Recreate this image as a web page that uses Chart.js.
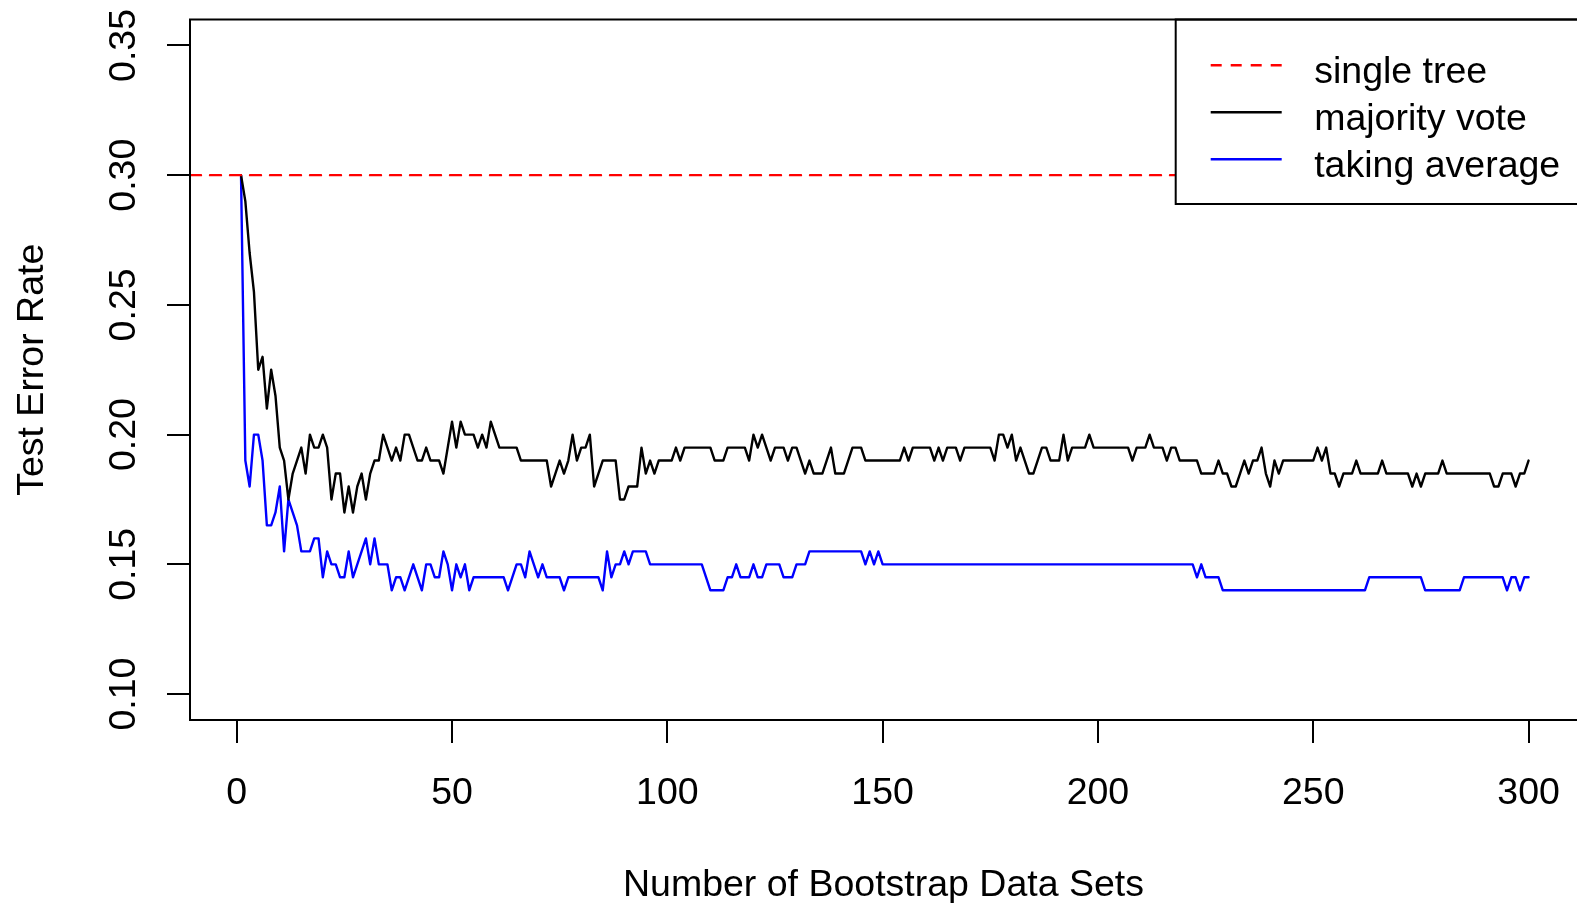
<!DOCTYPE html>
<html>
<head>
<meta charset="utf-8">
<title>Bagging: test error rate</title>
<script src="https://cdn.jsdelivr.net/npm/chart.js@4.4.1/dist/chart.umd.min.js"></script>
<style>
  html, body { margin: 0; padding: 0; background: #fff; }
</style>
</head>
<body>
<canvas id="myChart" width="1577" height="903"></canvas>
<script>
// number of bootstrap data sets (x categories)
const nTrees = Array.from({ length: 300 }, (_, i) => i + 1);

const singleTree = 0.30;

const majorityVote = [
  0.30, 0.29, 0.27, 0.255, 0.225, 0.23, 0.21, 0.225, 0.215, 0.195,
  0.19, 0.175, 0.185, 0.19, 0.195, 0.185, 0.20, 0.195, 0.195, 0.20,
  0.195, 0.175, 0.185, 0.185, 0.17, 0.18, 0.17, 0.18, 0.185, 0.175,
  0.185, 0.19, 0.19, 0.20, 0.195, 0.19, 0.195, 0.19, 0.20, 0.20,
  0.195, 0.19, 0.19, 0.195, 0.19, 0.19, 0.19, 0.185, 0.195, 0.205,
  0.195, 0.205, 0.20, 0.20, 0.20, 0.195, 0.20, 0.195, 0.205, 0.20,
  0.195, 0.195, 0.195, 0.195, 0.195, 0.19, 0.19, 0.19, 0.19, 0.19,
  0.19, 0.19, 0.18, 0.185, 0.19, 0.185, 0.19, 0.20, 0.19, 0.195,
  0.195, 0.20, 0.18, 0.185, 0.19, 0.19, 0.19, 0.19, 0.175, 0.175,
  0.18, 0.18, 0.18, 0.195, 0.185, 0.19, 0.185, 0.19, 0.19, 0.19,
  0.19, 0.195, 0.19, 0.195, 0.195, 0.195, 0.195, 0.195, 0.195, 0.195,
  0.19, 0.19, 0.19, 0.195, 0.195, 0.195, 0.195, 0.195, 0.19, 0.20,
  0.195, 0.20, 0.195, 0.19, 0.195, 0.195, 0.195, 0.19, 0.195, 0.195,
  0.19, 0.185, 0.19, 0.185, 0.185, 0.185, 0.19, 0.195, 0.185, 0.185,
  0.185, 0.19, 0.195, 0.195, 0.195, 0.19, 0.19, 0.19, 0.19, 0.19,
  0.19, 0.19, 0.19, 0.19, 0.195, 0.19, 0.195, 0.195, 0.195, 0.195,
  0.195, 0.19, 0.195, 0.19, 0.195, 0.195, 0.195, 0.19, 0.195, 0.195,
  0.195, 0.195, 0.195, 0.195, 0.195, 0.19, 0.20, 0.20, 0.195, 0.20,
  0.19, 0.195, 0.19, 0.185, 0.185, 0.19, 0.195, 0.195, 0.19, 0.19,
  0.19, 0.20, 0.19, 0.195, 0.195, 0.195, 0.195, 0.20, 0.195, 0.195,
  0.195, 0.195, 0.195, 0.195, 0.195, 0.195, 0.195, 0.19, 0.195, 0.195,
  0.195, 0.20, 0.195, 0.195, 0.195, 0.19, 0.195, 0.195, 0.19, 0.19,
  0.19, 0.19, 0.19, 0.185, 0.185, 0.185, 0.185, 0.19, 0.185, 0.185,
  0.18, 0.18, 0.185, 0.19, 0.185, 0.19, 0.19, 0.195, 0.185, 0.18,
  0.19, 0.185, 0.19, 0.19, 0.19, 0.19, 0.19, 0.19, 0.19, 0.19,
  0.195, 0.19, 0.195, 0.185, 0.185, 0.18, 0.185, 0.185, 0.185, 0.19,
  0.185, 0.185, 0.185, 0.185, 0.185, 0.19, 0.185, 0.185, 0.185, 0.185,
  0.185, 0.185, 0.18, 0.185, 0.18, 0.185, 0.185, 0.185, 0.185, 0.19,
  0.185, 0.185, 0.185, 0.185, 0.185, 0.185, 0.185, 0.185, 0.185, 0.185,
  0.185, 0.18, 0.18, 0.185, 0.185, 0.185, 0.18, 0.185, 0.185, 0.19
];

const takingAverage = [
  0.30, 0.19, 0.18, 0.20, 0.20, 0.19, 0.165, 0.165, 0.17, 0.18,
  0.155, 0.175, 0.17, 0.165, 0.155, 0.155, 0.155, 0.16, 0.16, 0.145,
  0.155, 0.15, 0.15, 0.145, 0.145, 0.155, 0.145, 0.15, 0.155, 0.16,
  0.15, 0.16, 0.15, 0.15, 0.15, 0.14, 0.145, 0.145, 0.14, 0.145,
  0.15, 0.145, 0.14, 0.15, 0.15, 0.145, 0.145, 0.155, 0.15, 0.14,
  0.15, 0.145, 0.15, 0.14, 0.145, 0.145, 0.145, 0.145, 0.145, 0.145,
  0.145, 0.145, 0.14, 0.145, 0.15, 0.15, 0.145, 0.155, 0.15, 0.145,
  0.15, 0.145, 0.145, 0.145, 0.145, 0.14, 0.145, 0.145, 0.145, 0.145,
  0.145, 0.145, 0.145, 0.145, 0.14, 0.155, 0.145, 0.15, 0.15, 0.155,
  0.15, 0.155, 0.155, 0.155, 0.155, 0.15, 0.15, 0.15, 0.15, 0.15,
  0.15, 0.15, 0.15, 0.15, 0.15, 0.15, 0.15, 0.15, 0.145, 0.14,
  0.14, 0.14, 0.14, 0.145, 0.145, 0.15, 0.145, 0.145, 0.145, 0.15,
  0.145, 0.145, 0.15, 0.15, 0.15, 0.15, 0.145, 0.145, 0.145, 0.15,
  0.15, 0.15, 0.155, 0.155, 0.155, 0.155, 0.155, 0.155, 0.155, 0.155,
  0.155, 0.155, 0.155, 0.155, 0.155, 0.15, 0.155, 0.15, 0.155, 0.15,
  0.15, 0.15, 0.15, 0.15, 0.15, 0.15, 0.15, 0.15, 0.15, 0.15,
  0.15, 0.15, 0.15, 0.15, 0.15, 0.15, 0.15, 0.15, 0.15, 0.15,
  0.15, 0.15, 0.15, 0.15, 0.15, 0.15, 0.15, 0.15, 0.15, 0.15,
  0.15, 0.15, 0.15, 0.15, 0.15, 0.15, 0.15, 0.15, 0.15, 0.15,
  0.15, 0.15, 0.15, 0.15, 0.15, 0.15, 0.15, 0.15, 0.15, 0.15,
  0.15, 0.15, 0.15, 0.15, 0.15, 0.15, 0.15, 0.15, 0.15, 0.15,
  0.15, 0.15, 0.15, 0.15, 0.15, 0.15, 0.15, 0.15, 0.15, 0.15,
  0.15, 0.15, 0.145, 0.15, 0.145, 0.145, 0.145, 0.145, 0.14, 0.14,
  0.14, 0.14, 0.14, 0.14, 0.14, 0.14, 0.14, 0.14, 0.14, 0.14,
  0.14, 0.14, 0.14, 0.14, 0.14, 0.14, 0.14, 0.14, 0.14, 0.14,
  0.14, 0.14, 0.14, 0.14, 0.14, 0.14, 0.14, 0.14, 0.14, 0.14,
  0.14, 0.14, 0.145, 0.145, 0.145, 0.145, 0.145, 0.145, 0.145, 0.145,
  0.145, 0.145, 0.145, 0.145, 0.145, 0.14, 0.14, 0.14, 0.14, 0.14,
  0.14, 0.14, 0.14, 0.14, 0.145, 0.145, 0.145, 0.145, 0.145, 0.145,
  0.145, 0.145, 0.145, 0.145, 0.14, 0.145, 0.145, 0.14, 0.145, 0.145
];

const seriesNames = ["single tree", "majority vote", "taking average"];
const xTicks = [0, 50, 100, 150, 200, 250, 300];
const xTickLabels = ["0", "50", "100", "150", "200", "250", "300"];
const yTicks = [0.10, 0.15, 0.20, 0.25, 0.30, 0.35];
const yTickLabels = ["0.10", "0.15", "0.20", "0.25", "0.30", "0.35"];

const FONT = "'Liberation Sans', Arial, sans-serif";
const FONT_SIZE = 37.5;
Chart.defaults.font.family = FONT;
Chart.defaults.color = "#000";

// plot region like R (4% padding), right edge runs off the picture
const X_MIN = -10.85, X_MAX = 311.25;
const Y_MIN = 0.09, Y_MAX = 0.36;

const data = {
  datasets: [
    {
      label: seriesNames[0],
      data: [{ x: X_MIN, y: singleTree }, { x: X_MAX, y: singleTree }],
      borderColor: "#ff0000",
      borderDash: [11, 9],
      borderWidth: 2.4,
    },
    {
      label: seriesNames[1],
      data: nTrees.map((n, i) => ({ x: n, y: majorityVote[i] })),
      borderColor: "#000000",
      borderWidth: 2.4,
    },
    {
      label: seriesNames[2],
      data: nTrees.map((n, i) => ({ x: n, y: takingAverage[i] })),
      borderColor: "#0000ff",
      borderWidth: 2.4,
    },
  ],
};

// box, rotated y labels and the R-style legend
const rPlotExtras = {
  id: "rPlotExtras",
  afterDatasetsDraw(chart) {
    const { ctx, chartArea } = chart;
    const left = chartArea.left + 985.7;
    const top = chartArea.top;
    const bottom = 204;
    ctx.save();
    ctx.fillStyle = "#fff";
    ctx.fillRect(left, top, chart.width - left + 10, bottom - top);
    ctx.strokeStyle = "#000";
    ctx.lineWidth = 2;
    ctx.strokeRect(left, top, chart.width - left + 20, bottom - top);
    chart.data.datasets.forEach((ds, i) => {
      const ly = 65.3 + i * 47;
      ctx.beginPath();
      ctx.setLineDash(ds.borderDash || []);
      ctx.strokeStyle = ds.borderColor;
      ctx.lineWidth = ds.borderWidth;
      ctx.moveTo(left + 35, ly);
      ctx.lineTo(left + 106, ly);
      ctx.stroke();
      ctx.setLineDash([]);
      ctx.fillStyle = "#000";
      ctx.font = FONT_SIZE + "px " + FONT;
      ctx.textAlign = "left";
      ctx.textBaseline = "alphabetic";
      ctx.fillText(ds.label, left + 138.5, ly + 18);
    });
    ctx.restore();
  },
  afterDraw(chart) {
    const { ctx, chartArea } = chart;
    const yScale = chart.scales.y;
    ctx.save();
    ctx.strokeStyle = "#000";
    ctx.lineWidth = 2;
    ctx.strokeRect(chartArea.left, chartArea.top, chartArea.width + 20, chartArea.height);
    ctx.fillStyle = "#000";
    ctx.font = FONT_SIZE + "px " + FONT;
    ctx.textAlign = "center";
    ctx.textBaseline = "middle";
    yTicks.forEach((v, i) => {
      ctx.save();
      ctx.translate(chartArea.left - 65, yScale.getPixelForValue(v));
      ctx.rotate(-Math.PI / 2);
      ctx.fillText(yTickLabels[i], 0, 0);
      ctx.restore();
    });
    ctx.restore();
  },
};

const config = {
  type: "line",
  data: data,
  options: {
    responsive: false,
    devicePixelRatio: 1,
    animation: false,
    layout: { padding: { top: 19.5, left: 0, right: 0, bottom: 0 } },
    elements: {
      point: { radius: 0 },
      line: { tension: 0, borderJoinStyle: "round", borderCapStyle: "round" },
    },
    plugins: {
      legend: { display: false },
      tooltip: { enabled: false },
    },
    scales: {
      x: {
        type: "linear",
        min: X_MIN,
        max: X_MAX,
        afterBuildTicks: (s) => { s.ticks = xTicks.map((v) => ({ value: v })); },
        afterFit: (s) => { s.height = 183; s.paddingLeft = 0; s.paddingRight = 0; },
        grid: { drawOnChartArea: false, drawTicks: true, tickLength: 23, color: "#000", lineWidth: 2 },
        border: { display: false },
        ticks: {
          font: { size: FONT_SIZE },
          padding: 28,
          maxRotation: 0,
          autoSkip: false,
          callback: (v) => xTickLabels[xTicks.indexOf(v)],
        },
        title: {
          display: true,
          text: "Number of Bootstrap Data Sets",
          font: { size: FONT_SIZE, lineHeight: 0.92 },
          padding: { top: 0, bottom: 0 },
        },
      },
      y: {
        type: "linear",
        min: Y_MIN,
        max: Y_MAX,
        afterBuildTicks: (s) => { s.ticks = yTicks.map((v) => ({ value: v })); },
        afterFit: (s) => { s.width = 190; s.paddingTop = 0; s.paddingBottom = 0; },
        grid: { drawOnChartArea: false, drawTicks: true, tickLength: 23, color: "#000", lineWidth: 2 },
        border: { display: false },
        ticks: { display: false },
        title: {
          display: true,
          text: "Test Error Rate",
          font: { size: FONT_SIZE, lineHeight: 1 },
          padding: { top: 13.5, bottom: 0 },
        },
      },
    },
  },
  plugins: [rPlotExtras],
};

const ctx = document.getElementById("myChart").getContext("2d");
const myChart = new Chart(ctx, config);
</script>
</body>
</html>
